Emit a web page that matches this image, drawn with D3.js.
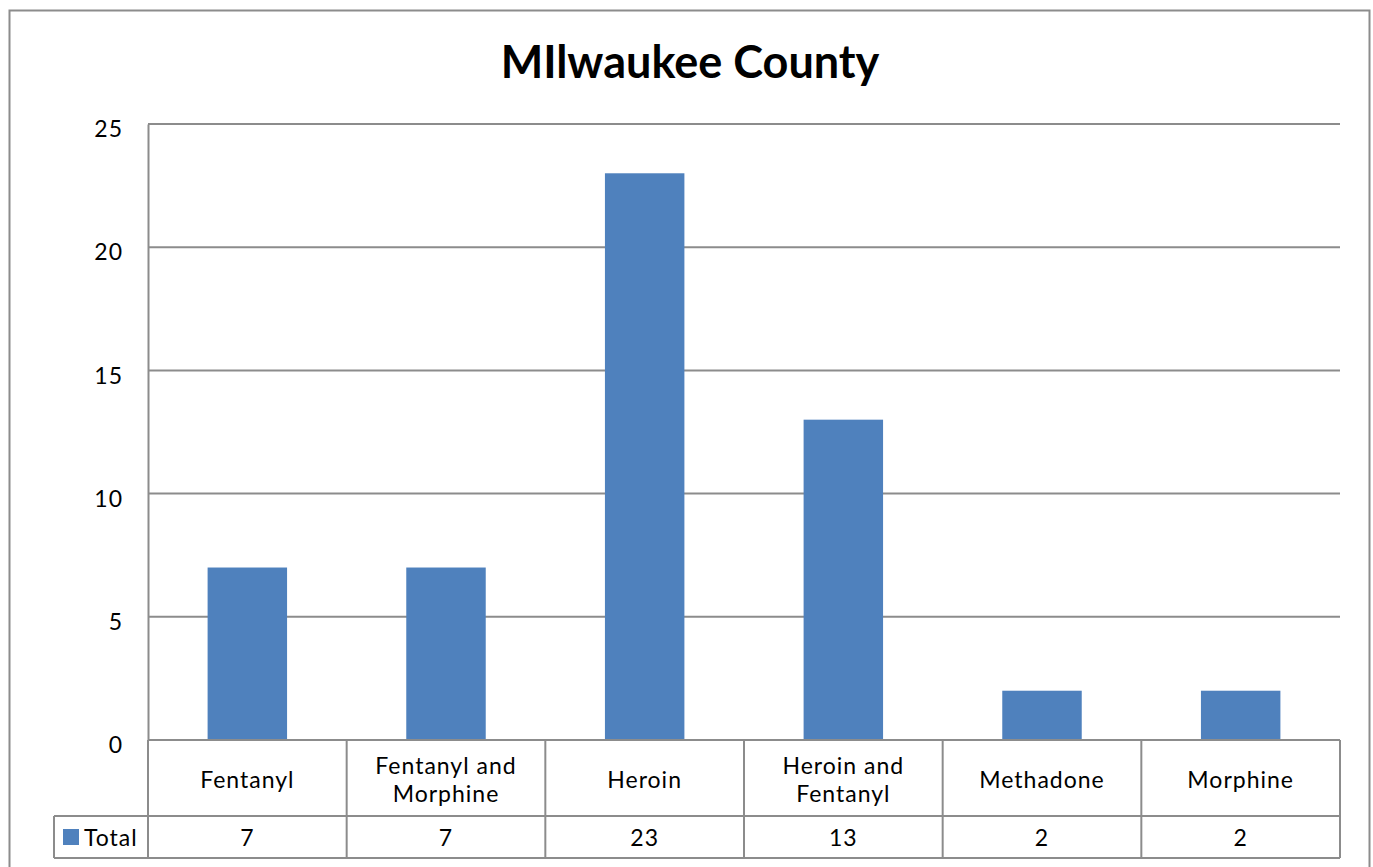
<!DOCTYPE html>
<html><head><meta charset="utf-8">
<script src="https://cdn.jsdelivr.net/npm/d3@7"></script>
<style>body{margin:0;background:#fff}svg{display:block}text{font-family:Lato,"Open Sans",sans-serif}</style>
</head><body><svg id="c" width="1373" height="867"></svg>
<script>
const categories = ["Fentanyl", "Fentanyl and\nMorphine", "Heroin", "Heroin and\nFentanyl", "Methadone", "Morphine"];
const values = [7, 7, 23, 13, 2, 2];
const yTicks = [0, 5, 10, 15, 20, 25];
const seriesName = "Total";

const svg = d3.select("#c");
const L = 148, R = 1340, T = 124, B = 740;
const row1 = 816, row2 = 858, legL = 54;
const grid = "#8c8c8c";
const fs = 23, ls = "1px";

svg.append("rect").attr("x", 9.5).attr("y", 10.5).attr("width", 1360).attr("height", 870)
  .attr("fill", "none").attr("stroke", "#8c8c8c").attr("stroke-width", 2);

svg.append("text").attr("x", 690).attr("y", 78).attr("text-anchor", "middle")
  .attr("font-size", 45).attr("font-weight", "bold").text("MIlwaukee County");

const x = d3.scaleBand().domain(d3.range(categories.length)).range([L, R]).paddingInner(0).paddingOuter(0);
const y = d3.scaleLinear().domain([0, 25]).range([B, T]);

// gridlines
svg.append("g").selectAll("line").data(yTicks.filter(d => d > 0)).join("line")
  .attr("x1", L).attr("x2", R).attr("y1", d => y(d)).attr("y2", d => y(d))
  .attr("stroke", grid).attr("stroke-width", 2);

// y axis
const ya = svg.append("g").attr("transform", `translate(${L},0)`)
  .call(d3.axisLeft(y).tickValues(yTicks).tickSize(0).tickPadding(25));
ya.select(".domain").attr("stroke", grid).attr("stroke-width", 2);
ya.selectAll("text").attr("font-size", fs).attr("fill", "#000").attr("dy", "0.55em").attr("letter-spacing", ls);

// bars
const bw = x.bandwidth() * 0.4;
svg.append("g").selectAll("rect").data(values).join("rect")
  .attr("x", (d, i) => x(i) + (x.bandwidth() - bw) / 2)
  .attr("width", bw)
  .attr("y", d => y(d)).attr("height", d => y(0) - y(d))
  .attr("fill", "#4F81BD");

// table
const tg = svg.append("g").attr("stroke", grid).attr("stroke-width", 2).attr("fill", "none");
tg.append("line").attr("x1", L).attr("x2", R).attr("y1", B).attr("y2", B);
tg.append("line").attr("x1", legL).attr("x2", R).attr("y1", row1).attr("y2", row1);
tg.append("line").attr("x1", legL).attr("x2", R).attr("y1", row2).attr("y2", row2);
tg.append("line").attr("x1", legL).attr("x2", legL).attr("y1", row1).attr("y2", row2);
tg.selectAll(".v").data(d3.range(categories.length + 1)).join("line")
  .attr("x1", i => i < categories.length ? x(i) : R).attr("x2", i => i < categories.length ? x(i) : R)
  .attr("y1", B).attr("y2", row2);

categories.forEach((c, i) => {
  const lines = c.split("\n");
  const cx = x(i) + x.bandwidth() / 2;
  const t = svg.append("text").attr("text-anchor", "middle").attr("font-size", fs).attr("fill", "#000").attr("letter-spacing", ls);
  const lh = 28;
  const y0 = (B + row1) / 2 + 10 - (lines.length - 1) * lh / 2;
  lines.forEach((ln, k) => t.append("tspan").attr("x", cx).attr("y", y0 + k * lh).text(ln));
  svg.append("text").attr("x", cx).attr("y", (row1 + row2) / 2 + 9).attr("text-anchor", "middle")
    .attr("font-size", fs).attr("fill", "#000").attr("letter-spacing", ls).text(values[i]);
});

svg.append("rect").attr("x", 63).attr("y", 829).attr("width", 16).attr("height", 16).attr("fill", "#4F81BD");
svg.append("text").attr("x", 84).attr("y", (row1 + row2) / 2 + 9).attr("font-size", fs).attr("fill", "#000").attr("letter-spacing", ls).text(seriesName);
</script></body></html>
